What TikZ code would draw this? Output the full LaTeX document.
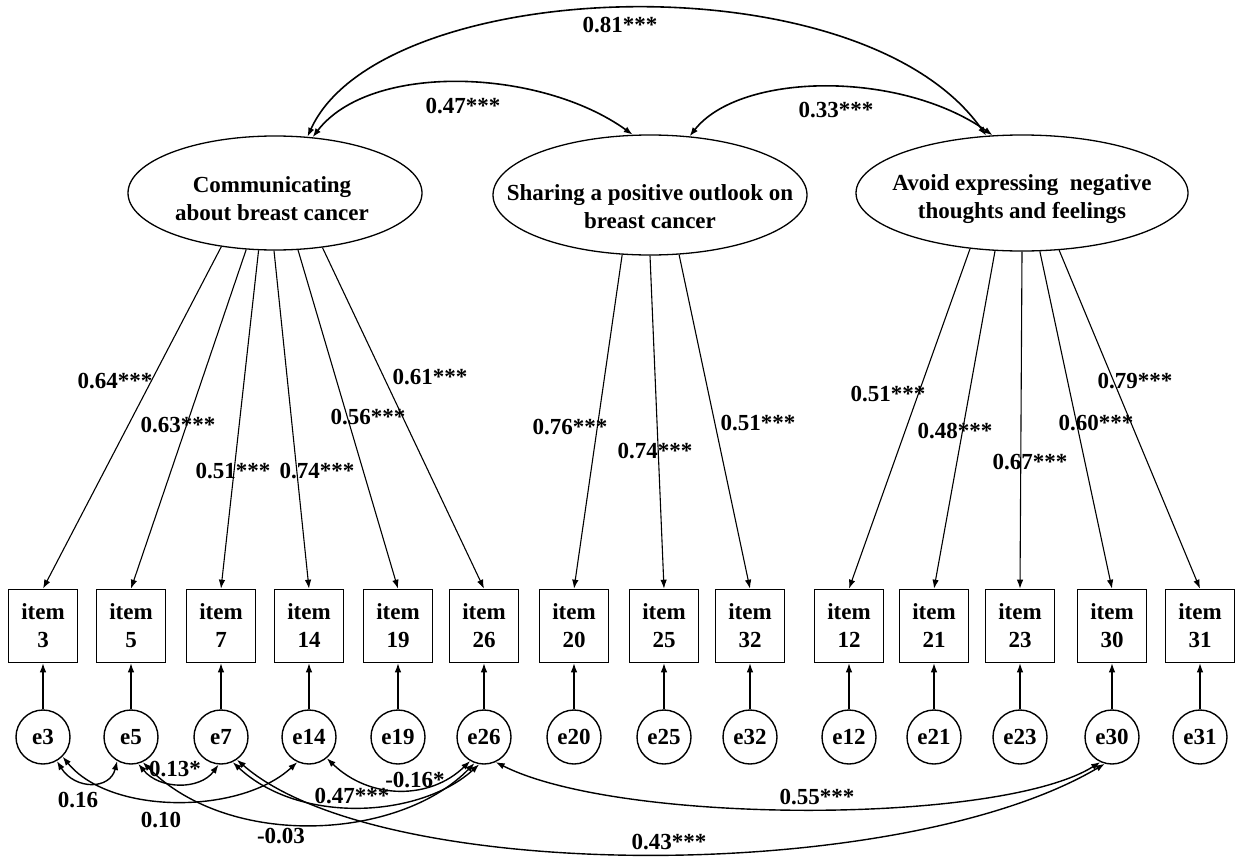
\documentclass[tikz,border=0pt]{standalone}
\usepackage{fontspec}
\setmainfont{Liberation Serif}
\usetikzlibrary{arrows.meta, shapes.geometric}

\begin{document}
\begin{tikzpicture}[x=1pt, y=-1pt,
  every node/.style={font=\fontsize{23}{28}\selectfont\bfseries},
  latent/.style 2 args={ellipse, draw, line width=1.3pt, minimum width=#1,
    minimum height=#2, inner sep=0pt},
  obsbox/.style={rectangle, draw, line width=1.6pt, minimum width=69pt,
    minimum height=73pt, inner sep=0pt, align=center},
  errc/.style={circle, draw, line width=1.4pt, minimum size=54pt, inner sep=0pt},
  load/.style={-{Latex[length=9pt, width=6.5pt]}, line width=1.1pt},
  cov/.style={{Latex[length=9pt, width=6.5pt]}-{Latex[length=9pt, width=6.5pt]},
    line width=1.4pt}]
  \useasboundingbox (0,0) rectangle (1238,859);

  % latent factors
  \node[latent={294pt}{114pt}] (f1) at (275,193) {};
  \node[latent={314pt}{120pt}] (f2) at (650,195) {};
  \node[latent={332pt}{116pt}] (f3) at (1022,193) {};
  \node[align=center] (t1) at (272,199) {Communicating\\about breast cancer};
  \node[align=center] (t2) at (650,207) {Sharing a positive outlook on\\breast cancer};
  \node[align=center] (t3) at (1022,199) {Avoid expressing~~negative\\thoughts and feelings};

  % items and errors
  \foreach \n/\x in {3/43, 5/131, 7/221, 14/309, 19/398, 26/484, 20/574,
                     25/664, 32/750, 12/849, 21/934, 23/1020, 30/1112, 31/1200} {
    \node[obsbox] (i\n) at (\x,626) {item\\\n};
    \node[errc] (e\n) at (\x,737) {e\n};
    \draw[load] (e\n) -- (i\n);
  }

  % loadings
  \foreach \a/\n in {225/3, 243/5, 254/7, 269/14, 292/19, 311/26}
    \draw[load] (f1.\a) -- (i\n.north);
  \foreach \a/\n in {245/20, 270/25, 296/32}
    \draw[load] (f2.\a) -- (i\n.north);
  \foreach \a/\n in {227/12, 245/21, 270/23, 287/30, 303/31}
    \draw[load] (f3.\a) -- (i\n.north);
  \foreach \nm/\x/\y/\t in {w3/115/381/0.64***, w5/178/425/0.63***,
      w7/233/471/0.51***, w14/317/471/0.74***, w19/368/417/0.56***,
      w26/430/377/0.61***, w20/570/427/0.76***, w25/655/451/0.74***,
      w32/758/423/0.51***, w12/888/394/0.51***, w21/955/431/0.48***,
      w23/1030/462/0.67***, w30/1096/423/0.60***, w31/1135/381/0.79***}
    \node (\nm) at (\x,\y) {\t};

  % factor correlations
  \draw[cov, line width=1.6pt] (f1.60) .. controls (380,-24) and (860,-44) .. (f3.122);
  \draw[cov, line width=1.6pt] (f1.56) .. controls (370,62) and (540,68) .. (f2.106);
  \draw[cov, line width=1.6pt] (f2.56) .. controls (740,72) and (900,70) .. (f3.117);
  \node (r13) at (620,25) {0.81***};
  \node (r12) at (463,106) {0.47***};
  \node (r23) at (836,110) {0.33***};

  % error covariances
  \draw[cov] (e3.-60) .. controls (75,790) and (110,790) .. (e5.-120);
  \draw[cov] (e5.-75) .. controls (160,790) and (200,790) .. (e7.-95);
  \draw[cov] (e3.-45) .. controls (110,815) and (240,815) .. (e14.-115);
  \draw[cov] (e5.-65) .. controls (230,850) and (400,840) .. (e26.-110);
  \draw[cov] (e7.-65) .. controls (300,825) and (420,818) .. (e26.-100);
  \draw[cov] (e14.-50) .. controls (370,800) and (430,800) .. (e26.-120);
  \draw[cov] (e26.-65) .. controls (620,825) and (1000,825) .. (e30.-115);
  \draw[cov] (e7.-55) .. controls (380,885) and (900,885) .. (e30.-105);
  \foreach \nm/\x/\y/\t in {c1/78/800/0.16, c2/175/769/0.13*, c3/161/820/0.10,
      c4/281/836/-0.03, c5/352/796/0.47***, c6/415/780/-0.16*,
      c7/817/797/0.55***, c8/669/842/0.43***}
    \node (\nm) at (\x,\y) {\t};
\end{tikzpicture}
\end{document}
